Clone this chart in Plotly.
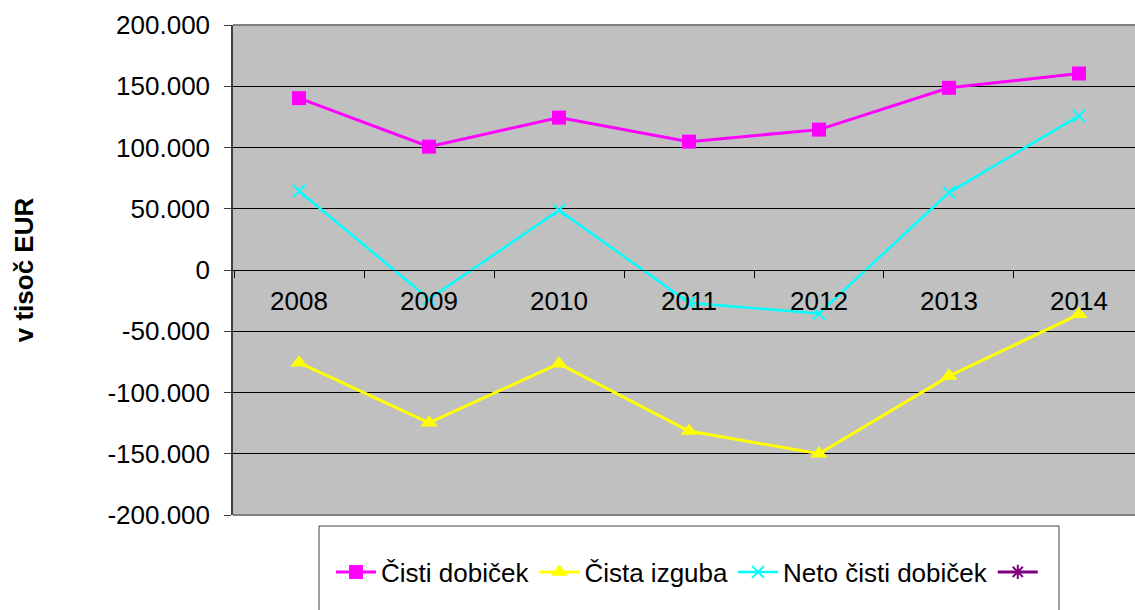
import plotly.graph_objects as go

years = ["2008", "2009", "2010", "2011", "2012", "2013", "2014"]
cisti_dobicek = [140300, 100700, 124400, 104800, 114600, 148700, 160400]
cista_izguba = [-75700, -124700, -76500, -131500, -150000, -86600, -36200]
neto_cisti_dobicek = [64500, -23700, 48800, -26700, -35500, 63200, 125800]
empty_series = [None] * 7

y_tickvals = [200000, 150000, 100000, 50000, 0, -50000, -100000, -150000, -200000]
y_ticktext = ["200.000", "150.000", "100.000", "50.000", "0", "-50.000", "-100.000", "-150.000", "-200.000"]

FONT = "Arial, 'Liberation Sans', sans-serif"
FS = 26

fig = go.Figure()
fig.add_trace(go.Scatter(
    x=years, y=cisti_dobicek, name="Čisti dobiček", mode="lines+markers",
    line=dict(color="#FF00FF", width=3),
    marker=dict(symbol="square", size=14, color="#FF00FF"),
))
fig.add_trace(go.Scatter(
    x=years, y=cista_izguba, name="Čista izguba", mode="lines+markers",
    line=dict(color="#FFFF00", width=3),
    marker=dict(symbol="triangle-up", size=15, color="#FFFF00"),
))
fig.add_trace(go.Scatter(
    x=years, y=neto_cisti_dobicek, name="Neto čisti dobiček", mode="lines+markers",
    line=dict(color="#00FFFF", width=2.5),
    marker=dict(symbol="x-thin-open", size=12, color="#00FFFF", line=dict(width=2, color="#00FFFF")),
))
fig.add_trace(go.Scatter(
    x=years, y=empty_series, name=" ", mode="lines+markers",
    line=dict(color="#800080", width=3),
    marker=dict(symbol="asterisk-open", size=12, color="#800080", line=dict(width=2, color="#800080")),
))

W, H = 1135, 610
L, T, B, R = 233, 25, 95, 0

fig.update_layout(
    width=W, height=H,
    margin=dict(l=L, r=R, t=T, b=B, pad=0, autoexpand=False),
    paper_bgcolor="white",
    plot_bgcolor="#C0C0C0",
    font=dict(family=FONT, size=FS, color="black"),
    showlegend=True,
    legend=dict(
        orientation="h", x=(331 - L) / (W - L - R), xanchor="left",
        y=(H - B - 572) / (H - T - B), yanchor="middle",
        bgcolor="rgba(0,0,0,0)", borderwidth=0,
        font=dict(family=FONT, size=FS, color="black"),
        itemwidth=40,
    ),
    xaxis=dict(
        type="category", range=[-0.508, 6.431],
        anchor="free", position=0.5,
        showline=True, linecolor="black", linewidth=1,
        ticks="outside", ticklen=7, tickcolor="black", tickwidth=1,
        tickson="boundaries", showgrid=False,
        ticklabelstandoff=8,
        tickfont=dict(family=FONT, size=FS, color="black"),
    ),
    yaxis=dict(
        range=[-200000, 200000],
        tickvals=y_tickvals, ticktext=y_ticktext,
        showgrid=True, gridcolor="black", gridwidth=1,
        zeroline=False,
        showline=True, linecolor="#404040", linewidth=1.5,
        ticks="outside", ticklen=7, tickcolor="#404040",
        ticklabelstandoff=9,
        tickfont=dict(family=FONT, size=FS, color="black"),
        title=dict(text="<b>v tisoč EUR</b>", standoff=66,
                   font=dict(family=FONT, size=FS, color="black")),
    ),
    shapes=[
        dict(type="rect", xref="paper", yref="paper",
             x0=(319 - L) / (W - L - R), x1=(1059 - L) / (W - L - R),
             y0=(H - B - 640) / (H - T - B), y1=(H - B - 526) / (H - T - B),
             line=dict(color="#404040", width=1), fillcolor="white", layer="below"),
        dict(type="line", xref="paper", yref="paper", x0=0, x1=1, y0=1, y1=1,
             line=dict(color="#808080", width=2)),
        dict(type="line", xref="paper", yref="paper", x0=0, x1=1, y0=0, y1=0,
             line=dict(color="#808080", width=2)),
    ],
)

fig.write_html(
    "out.html",
    config={"displayModeBar": False},
    post_script="document.body.style.margin='0';document.body.style.overflow='hidden';",
)
